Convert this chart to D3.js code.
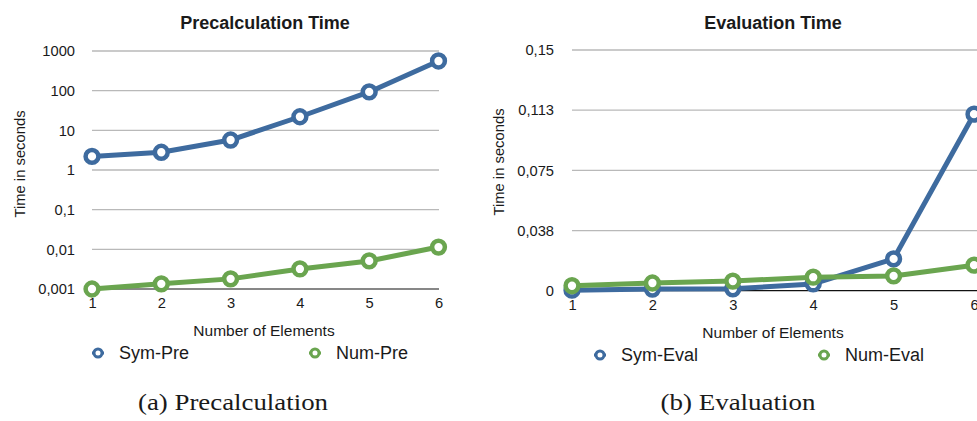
<!DOCTYPE html>
<html>
<head>
<meta charset="utf-8">
<script src="https://cdn.jsdelivr.net/npm/d3@7"></script>
<style>
  html, body { margin: 0; padding: 0; background: #fff; }
  svg { display: block; }
  text { font-family: "Liberation Sans", Arial, Helvetica, sans-serif; fill: #1a1a1a; }
  .caption { font-family: "Liberation Serif", "DejaVu Serif", serif; }
</style>
</head>
<body>
<svg id="chart" width="977" height="421"></svg>
<script>
// Number of elements on the x axis
const elements = [1, 2, 3, 4, 5, 6];

// Precalculation time (seconds, log scale)
const symPre = [2.2, 2.8, 5.7, 22, 93, 560];
const numPre = [0.001, 0.00135, 0.0018, 0.0032, 0.0051, 0.0114];
const preTicks = [0.001, 0.01, 0.1, 1, 10, 100, 1000];
const preTickLabels = ["0,001", "0,01", "0,1", "1", "10", "100", "1000"];

// Evaluation time (seconds, linear scale)
const symEval = [0.0003, 0.001, 0.0012, 0.0042, 0.0198, 0.110];
const numEval = [0.0031, 0.0048, 0.006, 0.0084, 0.0092, 0.0159];
const evalTicks = [0, 0.0375, 0.075, 0.1125, 0.15];
const evalTickLabels = ["0", "0,038", "0,075", "0,113", "0,15"];

const BLUE = "#3e6b9f";
const GREEN = "#6aa54f";

const svg = d3.select("#chart");

function drawPanel(opt) {
  const g = svg.append("g");
  const x = d3.scaleLinear().domain([1, 6]).range([opt.x0, opt.x1]);
  const y = opt.y;

  // horizontal grid lines
  g.selectAll(".grid").data(opt.ticks.slice(1)).join("line")
    .attr("x1", opt.x0).attr("x2", opt.gridEnd)
    .attr("y1", d => y(d)).attr("y2", d => y(d))
    .attr("stroke", "#b9b9b9").attr("stroke-width", 1.3);

  // baseline
  g.append("line")
    .attr("x1", opt.x0).attr("x2", opt.gridEnd)
    .attr("y1", y(opt.ticks[0])).attr("y2", y(opt.ticks[0]))
    .attr("stroke", "#111").attr("stroke-width", 1.2);

  // y tick labels
  const yAxis = d3.axisLeft(y).tickValues(opt.ticks)
    .tickFormat((d, i) => opt.tickLabels[i]).tickSize(0).tickPadding(0);
  const ya = g.append("g").attr("transform", `translate(${opt.labelX},0)`).call(yAxis);
  ya.select(".domain").remove();
  ya.selectAll("text").attr("font-size", 14.7).attr("fill", "#1a1a1a")
    .attr("font-family", "Liberation Sans, Arial, sans-serif");

  // x tick labels
  const xAxis = d3.axisBottom(x).tickValues(elements).tickFormat(d3.format("d"))
    .tickSize(0).tickPadding(0);
  const xa = g.append("g").attr("transform", `translate(0,${y(opt.ticks[0]) + 9})`).call(xAxis);
  xa.select(".domain").remove();
  xa.selectAll("text").attr("font-size", 14.7).attr("fill", "#1a1a1a")
    .attr("font-family", "Liberation Sans, Arial, sans-serif");

  // series lines and markers
  opt.series.forEach(s => {
    const line = d3.line().x((d, i) => x(elements[i])).y(d => y(d));
    g.append("path").datum(s.values)
      .attr("d", line).attr("fill", "none")
      .attr("stroke", s.color).attr("stroke-width", 5)
      .attr("stroke-linejoin", "round");
    g.selectAll(null).data(s.values).join("circle")
      .attr("cx", (d, i) => x(elements[i])).attr("cy", d => y(d))
      .attr("r", 6.4).attr("fill", "#fff")
      .attr("stroke", s.color).attr("stroke-width", 4.5);
  });

  // title
  g.append("text").attr("x", opt.titleX).attr("y", 29)
    .attr("text-anchor", "middle").attr("font-size", 18).attr("font-weight", "bold")
    .text(opt.title);

  // y axis title
  g.append("text")
    .attr("transform", `translate(${opt.yTitleX},${opt.yTitleY}) rotate(-90)`)
    .attr("text-anchor", "middle").attr("font-size", 14.8)
    .text("Time in seconds");

  // x axis title
  g.append("text").attr("x", opt.xTitleX).attr("y", opt.xTitleY)
    .attr("text-anchor", "middle").attr("font-size", 15.5)
    .text("Number of Elements");

  // legend
  opt.series.forEach((s, i) => {
    const lx = opt.legendX[i], ly = opt.legendY;
    g.append("line").attr("x1", lx - 6).attr("x2", lx + 6)
      .attr("y1", ly).attr("y2", ly)
      .attr("stroke", s.color).attr("stroke-width", 3);
    g.append("circle").attr("cx", lx).attr("cy", ly).attr("r", 4)
      .attr("fill", "#fff").attr("stroke", s.color).attr("stroke-width", 3);
    g.append("text").attr("x", lx + 21).attr("y", ly + 6)
      .attr("font-size", 18).text(s.name);
  });

  // caption
  g.append("text").attr("class", "caption")
    .attr("x", opt.captionX).attr("y", 410)
    .attr("text-anchor", "middle").attr("font-size", 23)
    .attr("textLength", opt.captionWidth).attr("lengthAdjust", "spacingAndGlyphs")
    .text(opt.caption);
}

drawPanel({
  title: "Precalculation Time",
  titleX: 265,
  x0: 92, x1: 438.5, gridEnd: 439,
  y: d3.scaleLog().domain([0.001, 1000]).range([289, 51]),
  ticks: preTicks, tickLabels: preTickLabels,
  labelX: 75,
  yTitleX: 24.5, yTitleY: 164,
  xTitleX: 264, xTitleY: 336,
  legendX: [98, 315], legendY: 353,
  series: [
    { name: "Sym-Pre", values: symPre, color: BLUE },
    { name: "Num-Pre", values: numPre, color: GREEN }
  ],
  caption: "(a) Precalculation", captionX: 233, captionWidth: 190
});

drawPanel({
  title: "Evaluation Time",
  titleX: 773,
  x0: 572, x1: 974, gridEnd: 990,
  y: d3.scaleLinear().domain([0, 0.15]).range([290.7, 50]),
  ticks: evalTicks, tickLabels: evalTickLabels,
  labelX: 554,
  yTitleX: 503.5, yTitleY: 162,
  xTitleX: 773, xTitleY: 338,
  legendX: [600, 824], legendY: 355,
  series: [
    { name: "Sym-Eval", values: symEval, color: BLUE },
    { name: "Num-Eval", values: numEval, color: GREEN }
  ],
  caption: "(b) Evaluation", captionX: 738, captionWidth: 155
});
</script>
</body>
</html>
